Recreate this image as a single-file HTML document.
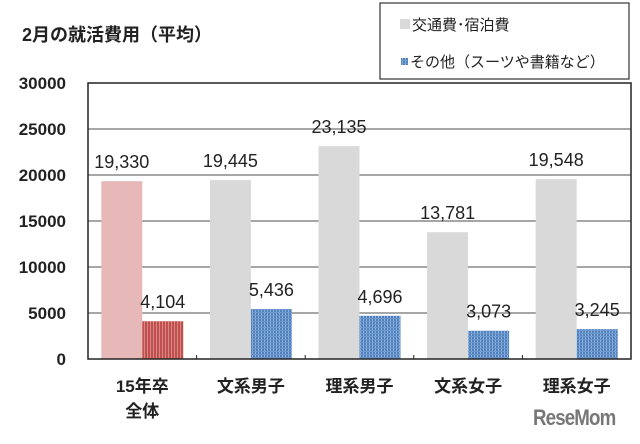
<!DOCTYPE html>
<html><head><meta charset="utf-8">
<style>
body{margin:0;background:#fff;}
svg text{font-family:"Liberation Sans","Noto Sans CJK JP",sans-serif;}
</style></head>
<body>
<svg id="chart" width="640" height="439" viewBox="0 0 640 439" xmlns="http://www.w3.org/2000/svg">
<defs>
<pattern id="pRed" width="3" height="3" patternUnits="userSpaceOnUse"><rect width="3" height="3" fill="#c0504d"/><rect width="1" height="3" fill="#d98785"/></pattern>
<pattern id="pBlue" width="3" height="3" patternUnits="userSpaceOnUse"><rect width="3" height="3" fill="#4f81bd"/><rect width="1" height="3" fill="#8db0dc"/><rect width="3" height="1" fill="#6c96cc"/></pattern>
</defs>
<text x="22" y="41" font-size="18" font-weight="bold" fill="#222">2月の就活費用（平均）</text>
<g>
<rect x="380" y="3" width="249" height="76" fill="#fff" stroke="#333" stroke-width="1.2"/>
<rect x="400" y="19" width="10" height="10" fill="#d9d9d9"/>
<text x="412" y="30" font-size="15" fill="#222">交通費･宿泊費</text>
<rect x="401" y="58" width="7" height="7" fill="url(#pBlue)"/>
<text x="410" y="67" font-size="15" fill="#222">その他（スーツや書籍など）</text>
</g>
<g id="grid"></g>
<g id="bars"></g>
<g id="labels"></g>
<rect x="88" y="83" width="543" height="276" fill="none" stroke="#222" stroke-width="1.5"/>
</svg>
<script>
const categories=[["15年卒","全体"],["文系男子"],["理系男子"],["文系女子"],["理系女子"]];
const transport=[19330,19445,23135,13781,19548];
const other=[4104,5436,4696,3073,3245];
const yTicks=[0,5000,10000,15000,20000,25000,30000];
const NS="http://www.w3.org/2000/svg";
const L=88,R=631,T=83,B=359,yMax=30000;
const y=v=>B-(v/yMax)*(B-T);
const gw=(R-L)/categories.length;
const cx=i=>L+gw*(i+0.5);
const fmt=v=>v.toLocaleString("en-US");
function mk(tag,attrs,parent){const e=document.createElementNS(NS,tag);for(const k in attrs)e.setAttribute(k,attrs[k]);document.getElementById(parent).appendChild(e);return e;}
yTicks.forEach(t=>{
  if(t>0&&t<yMax){const g=mk("line",{x1:L,x2:R,y1:y(t),y2:y(t),stroke:"#888","stroke-width":1.5},"grid");
  
  }
  const tl=mk("text",{x:66,y:y(t)+6,"font-size":17,"font-weight":"bold","text-anchor":"end",fill:"#222"},"labels");
  tl.textContent=t;
  
  
});
const bw=41;
categories.forEach((c,i)=>{
  const x=cx(i);
  const b1=mk("rect",{x:x-bw,y:y(transport[i]),width:bw,height:B-y(transport[i]),fill:i===0?"#e6b9b8":"#d9d9d9"},"bars");
  
  
  const b2=mk("rect",{x:x,y:y(other[i]),width:bw,height:B-y(other[i]),fill:i===0?"url(#pRed)":"url(#pBlue)"},"bars");
  
  
  const v1=mk("text",{x:x-bw/2,y:y(transport[i])-13,"font-size":18,"text-anchor":"middle",fill:"#222"},"labels");
  v1.textContent=fmt(transport[i]);
  
  
  const v2=mk("text",{x:x+bw/2,y:y(other[i])-13,"font-size":18,"text-anchor":"middle",fill:"#222"},"labels");
  v2.textContent=fmt(other[i]);
  
  
  if(i>0){const tk=mk("line",{x1:L+gw*i,x2:L+gw*i,y1:B-4,y2:B,stroke:"#222"},"grid");
  
  }
  c.forEach((line,j)=>{
    const cl=mk("text",{x:x,y:392+j*25,"font-size":17,"font-weight":"bold","text-anchor":"middle",fill:"#222"},"labels");
    cl.textContent=line;
    
    
  });
});
</script>
<div style="position:absolute;left:533px;top:405px;font:bold 22px 'Liberation Sans',sans-serif;color:#777;letter-spacing:-1px;transform:scaleX(0.85);transform-origin:left;">ReseMom</div>
</body></html>
